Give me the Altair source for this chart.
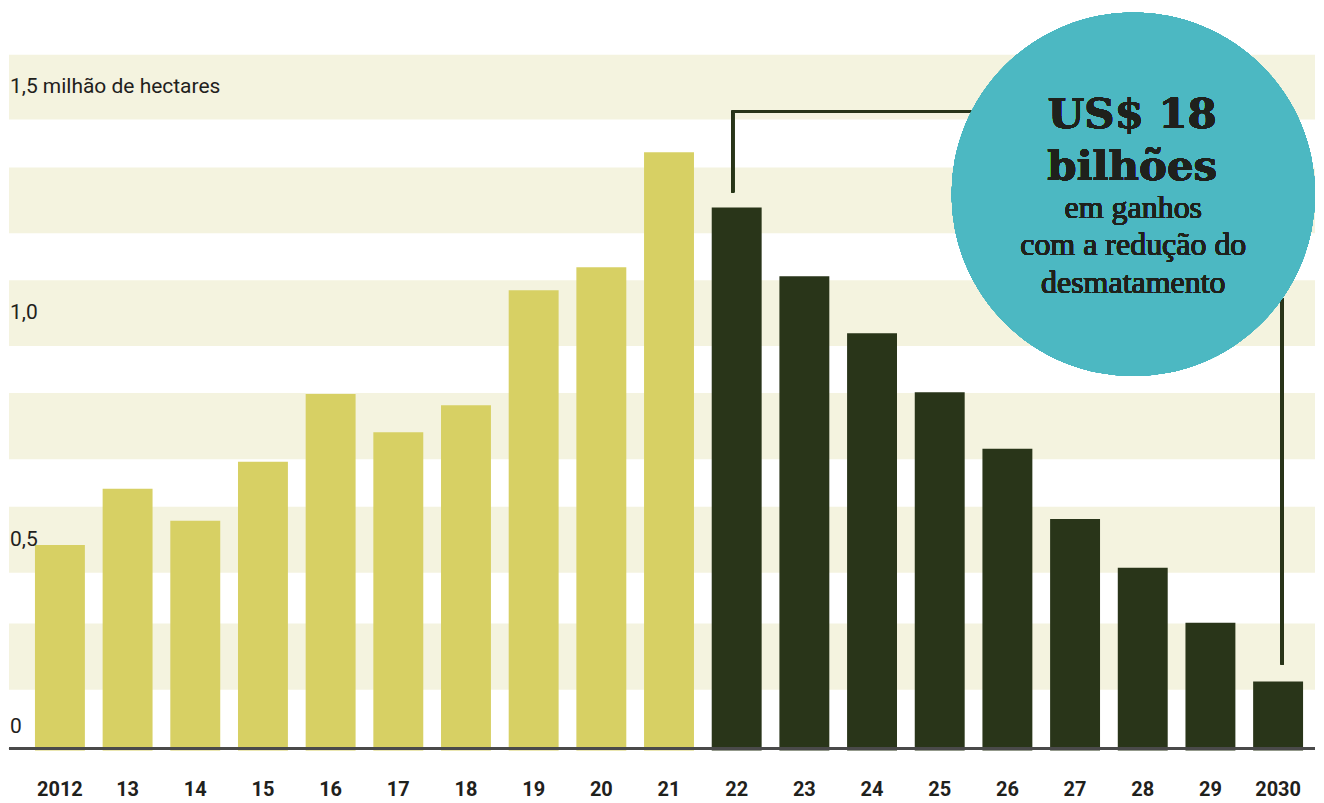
import altair as alt
import pandas as pd

# ---- data (million hectares) ----
years = ["2012", "13", "14", "15", "16", "17", "18", "19", "20", "21",
         "22", "23", "24", "25", "26", "27", "28", "29", "2030"]
values = [0.453, 0.578, 0.507, 0.638, 0.789, 0.704, 0.764, 1.020, 1.071, 1.327,
          1.204, 1.051, 0.924, 0.793, 0.667, 0.511, 0.402, 0.280, 0.149]
kinds = ["observado"] * 10 + ["projeção"] * 9

stripe_lo = [1.400, 1.147, 0.896, 0.644, 0.391, 0.131]
stripe_hi = [1.544, 1.293, 1.042, 0.791, 0.538, 0.278]

ytick_text = ["1,5 milhão de hectares", "1,0", "0,5", "0"]
ytick_pos = [1.472, 0.969, 0.464, 0.047]

bubble_big = ["US$ 18", "bilhões"]
bubble_small = ["em ganhos", "com a redução do", "desmatamento"]

# ---- styling ----
W, H = 1308, 743
YELLOW = "#d7d064"
DARK = "#293519"
STRIPE = "#f4f3df"
TEAL = "#4cb8c2"
INK = "#1f211c"

bars_df = pd.DataFrame({"ano": years, "valor": values, "tipo": kinds})
stripes_df = pd.DataFrame({"lo": stripe_lo, "hi": stripe_hi})
ticks_df = pd.DataFrame({"txt": ytick_text, "pos": ytick_pos})

yscale = alt.Scale(domain=[-0.0044, 1.6467], nice=False, zero=False)
xscale = alt.Scale(domain=years, paddingInner=0.2623, paddingOuter=0.28, align=0.685)

stripes = alt.Chart(stripes_df).mark_rect(color=STRIPE).encode(
    y=alt.Y("lo:Q", scale=yscale, axis=None),
    y2="hi:Q",
    x=alt.value(0),
    x2=alt.value(W),
)

bars = alt.Chart(bars_df).mark_bar().encode(
    x=alt.X("ano:N", scale=xscale, sort=years,
            axis=alt.Axis(title=None, domain=False, ticks=False, labelAngle=0,
                          labelFont="Roboto", labelFontWeight="bold", labelFontSize=20,
                          labelColor=INK, labelPadding=39, labelBaseline="middle")),
    y=alt.Y("valor:Q", scale=yscale, axis=None),
    y2=alt.datum(-0.0044),
    color=alt.Color("tipo:N", scale=alt.Scale(domain=["observado", "projeção"],
                                              range=[YELLOW, DARK]), legend=None),
)

baseline = alt.Chart(bars_df).mark_rule(color="#4a4a4a", strokeWidth=2).encode(
    y=alt.datum(0),
    x=alt.value(0),
    x2=alt.value(W),
)

ylabels = alt.Chart(ticks_df).mark_text(
    align="left", baseline="middle", font="Roboto", fontSize=21, color=INK
).encode(
    x=alt.value(1),
    y=alt.Y("pos:Q", scale=yscale),
    text="txt:N",
)

line_style = dict(color=DARK, strokeWidth=2.5)
left_v = alt.Chart(bars_df).mark_rule(**line_style).encode(
    x=alt.value(725), y=alt.value(103), y2=alt.value(184))
left_h = alt.Chart(bars_df).mark_rule(**line_style).encode(
    x=alt.value(724), x2=alt.value(990), y=alt.value(103))
right_v = alt.Chart(bars_df).mark_rule(**line_style).encode(
    x=alt.value(1275), y=alt.value(290), y2=alt.value(657))

bubble = alt.Chart(bars_df).mark_point(
    shape="circle", filled=True, color=TEAL, opacity=1, size=364 * 364
).encode(x=alt.value(1126), y=alt.value(186))

big_layers = []
for txt, yy in zip(bubble_big, [120, 172]):
    big_layers.append(
        alt.Chart(bars_df).mark_text(
            text=txt, font="DejaVu Serif", fontWeight="bold", fontSize=42,
            color=INK, align="center", baseline="alphabetic"
        ).encode(x=alt.value(1125), y=alt.value(yy))
    )
small_layers = []
for txt, yy in zip(bubble_small, [210, 247, 285]):
    small_layers.append(
        alt.Chart(bars_df).mark_text(
            text=txt, font="Liberation Serif", fontWeight="normal", fontSize=32,
            color=INK, align="center", baseline="alphabetic"
        ).encode(x=alt.value(1126), y=alt.value(yy))
    )

chart = alt.layer(
    stripes, bars, baseline, ylabels, left_v, left_h, right_v, bubble,
    *big_layers, *small_layers
).properties(
    width=W, height=H, padding=0, background="white"
).configure_view(stroke=None)

chart.save("out.html", embed_options={"renderer": "svg", "actions": False})
